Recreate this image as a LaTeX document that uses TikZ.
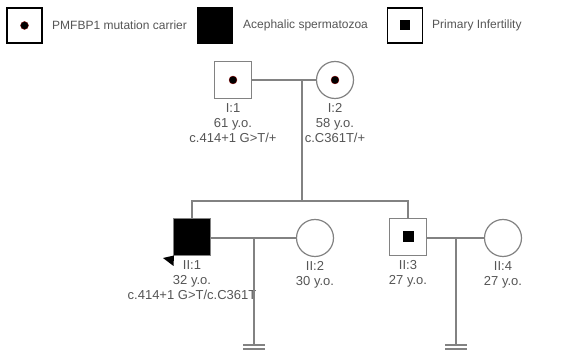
\documentclass[tikz,border=0pt]{standalone}
\usepackage{fontspec}
\setmainfont{Liberation Sans}
\usetikzlibrary{positioning}
\definecolor{linegray}{RGB}{130,130,130}
\definecolor{textgray}{RGB}{85,85,85}
\definecolor{darkred}{rgb}{0.6,0,0}

\begin{document}
\begin{tikzpicture}[x=1pt,y=-1pt,
    male/.style={draw=linegray, line width=1.2pt, minimum size=37pt, inner sep=0pt},
    female/.style={circle, draw=linegray, line width=1.2pt, minimum size=37pt, inner sep=0pt},
    legendbox/.style={draw=black, line width=1.6pt, minimum size=35pt, inner sep=0pt},
    carrier/.style={circle, fill=black, draw=darkred, line width=0.3pt, minimum size=8pt, inner sep=0pt},
    affected/.style={fill=black, minimum size=11pt, inner sep=0pt},
    info/.style={text=textgray, font=\fontsize{13}{15}\selectfont, align=center, inner sep=1pt, anchor=north, yshift=-3pt},
    legendtext/.style={text=textgray, font=\fontsize{12}{14}\selectfont, anchor=west, inner sep=0pt},
    link/.style={draw=linegray, line width=1.2pt}]
    \useasboundingbox (0,0) rectangle (573,352);
    % Legend
    \node[legendbox] (legcarrier) at (24.5,25.5) {};
    \node[carrier] (legcarrierdot) at (legcarrier.center) {};
    \node[legendtext] (legcarriertext) at (52,25.5) {PMFBP1 mutation carrier};
    \node[legendbox, fill=black] (legaceph) at (215,25.5) {};
    \node[legendtext] (legaciphtext) at (243,25.5) {Acephalic spermatozoa};
    \node[legendbox] (leginf) at (405,25.5) {};
    \node[affected, minimum size=10pt] (leginfdot) at (leginf.center) {};
    \node[legendtext] (leginftext) at (432,25.5) {Primary Infertility};
    % Generation I
    \node[male] (I1) at (233,80) {};
    \node[female] (I2) at (335,80) {};
    \node[carrier] (I1dot) at (I1.center) {};
    \node[carrier] (I2dot) at (I2.center) {};
    \draw[link] (I1.east) -- (I2.west);
    \node[info] (I1lab) at (I1.south) {I:1\\61 y.o.\\c.414+1 G>T/+};
    \node[info] (I2lab) at (I2.south) {I:2\\58 y.o.\\c.C361T/+};
    % Descent and sibship
    \coordinate (I12) at (302,80);
    \coordinate (sib) at (302,201);
    \draw[link] (I12) -- (sib);
    % Generation II
    \node[male, fill=black] (II1) at (192,237) {};
    \node[female] (II2) at (315,238) {};
    \node[male] (II3) at (408,237) {};
    \node[affected] (II3dot) at (II3.center) {};
    \node[female] (II4) at (503,238) {};
    \draw[link] (II1.north) |- (sib) -| (II3.north);
    \draw[link] (II1.east |- II2.west) -- (II2.west);
    \draw[link] (II3.east |- II4.west) -- (II4.west);
    % Proband
    \fill[black] (163,258) -- (174,255.5) -- (173.5,266) -- cycle;
    \node[info] (II1lab) at (II1.south) {II:1\\32 y.o.\\c.414+1 G>T/c.C361T};
    \node[info] (II2lab) at (II2.south) {II:2\\30 y.o.};
    \node[info] (II3lab) at (II3.south) {II:3\\27 y.o.};
    \node[info] (II4lab) at (II4.south) {II:4\\27 y.o.};
    % No children
    \coordinate (m1) at (254,238);
    \coordinate (nc1) at (254,345);
    \coordinate (m2) at (456,238);
    \coordinate (nc2) at (456,345);
    \draw[link] (m1) -- (nc1);
    \draw[link] (m2) -- (nc2);
    \draw[link] (nc1) ++(-11,0) -- ++(22,0);
    \draw[link] ([yshift=-4pt]nc1) ++(-11,0) -- ++(22,0);
    \draw[link] (nc2) ++(-11,0) -- ++(22,0);
    \draw[link] ([yshift=-4pt]nc2) ++(-11,0) -- ++(22,0);
\end{tikzpicture}
\end{document}
